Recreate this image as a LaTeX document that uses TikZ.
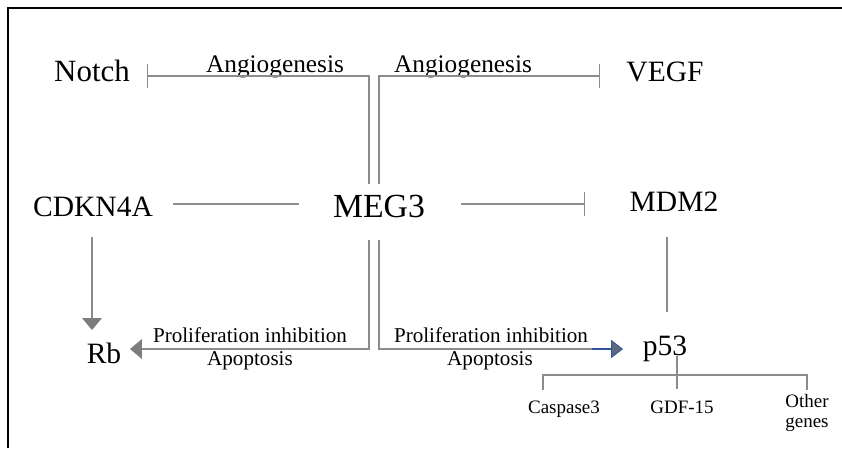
\documentclass[tikz,border=0pt]{standalone}
\usepackage{fontspec}
\setmainfont{Liberation Serif}
\usetikzlibrary{arrows.meta}

\definecolor{linegray}{RGB}{140,140,140}
\definecolor{tipgray}{RGB}{125,125,125}
\definecolor{tipblue}{RGB}{47,85,151}
\definecolor{tipslate}{RGB}{95,105,125}

\tikzset{
  link/.style={draw=linegray, line width=1pt},
  inhib/.style={link, -{Bar[width=17.5pt, line width=1pt]}},
  act/.style={link, -{Triangle[length=8.5pt, width=14pt, fill=tipgray, color=tipgray]}},
  actblue/.style={draw=tipblue, line width=1pt, -{Triangle[length=8.5pt, width=13pt, fill=tipslate, color=tipblue, line width=0.6pt]}},
  lbl/.style={inner sep=0pt, anchor=base},
  gene/.style={lbl, font=\fontsize{21}{25}\selectfont},
  note/.style={lbl, font=\fontsize{15}{18}\selectfont},
  small/.style={lbl, font=\fontsize{13.5}{14.5}\selectfont},
}

\begin{document}
\begin{tikzpicture}[x=0.025cm, y=-0.025cm]
  \useasboundingbox (0,0) rectangle (842,448);
  % frame
  \draw[line width=1.5pt] (8,448) -- (8,8) -- (842,8);

  % genes
  \node[gene, font=\fontsize{22}{26}\selectfont] (notch) at (92,81) {Notch};
  \node[gene] (vegf) at (665,81) {VEGF};
  \node[gene] (cdkn) at (93,216) {CDKN4A};
  \node[gene, font=\fontsize{24}{28}\selectfont] (meg3) at (379,217) {MEG3};
  \node[gene] (mdm2) at (674,211) {MDM2};
  \node[gene] (rb) at (104,363) {Rb};
  \node[gene] (p53) at (665,355) {p53};

  % effects
  \node[lbl, font=\fontsize{18}{21}\selectfont] (angl) at (275,72) {Angiogenesis};
  \node[lbl, font=\fontsize{18}{21}\selectfont] (angr) at (463,72) {Angiogenesis};
  \node[note] (prol) at (250,342) {Proliferation inhibition};
  \node[note] (apol) at (250,365) {Apoptosis};
  \node[note] (pror) at (491,342) {Proliferation inhibition};
  \node[note] (apor) at (490,365) {Apoptosis};

  % targets of p53
  \node[small] (casp) at (564,413) {Caspase3};
  \node[small] (gdf) at (682,413) {GDF-15};
  \node[small, anchor=center, align=center] (other) at (807,413) {Other\\genes};

  % connector ends
  \coordinate (lup) at (369,184);
  \coordinate (rup) at (379,184);
  \coordinate (ldn) at (369,240);
  \coordinate (rdn) at (379,240);
  \coordinate (notchbar) at (147,76);
  \coordinate (vegfbar) at (600,76);
  \coordinate (cdkr) at (173,204);
  \coordinate (megl) at (299,204);
  \coordinate (megr) at (461,204);
  \coordinate (mdmbar) at (585,204);
  \coordinate (cdkdn) at (92,237);
  \coordinate (rbtop) at (92,330);
  \coordinate (rbtip) at (130,349);
  \coordinate (p53tip) at (623,349);
  \coordinate (bluestart) at (592,349);
  \coordinate (mdmdn) at (667,237);
  \coordinate (p53up) at (667,312);
  \coordinate (stemtop) at (677,356);
  \coordinate (stembot) at (677,389);
  \coordinate (casdrop) at (543,390);
  \coordinate (tl) at (543,375);
  \coordinate (tr) at (807,375);
  \coordinate (othdrop) at (807,390);

  % MEG3 links
  \draw[inhib] (lup) |- (notchbar);
  \draw[inhib] (rup) |- (vegfbar);
  \draw[link] (cdkr) -- (megl);
  \draw[inhib] (megr) -- (mdmbar);
  \draw[act] (ldn) |- (rbtip);
  \draw[link] (rdn) |- (bluestart);
  \draw[actblue] (bluestart) -- (p53tip);

  % side chains
  \draw[act] (cdkdn) -- (rbtop);
  \draw[link] (mdmdn) -- (p53up);
  \draw[link] (stemtop) -- (stembot);
  \draw[link] (casdrop) -- (tl) -- (tr) -- (othdrop);
\end{tikzpicture}
\end{document}
